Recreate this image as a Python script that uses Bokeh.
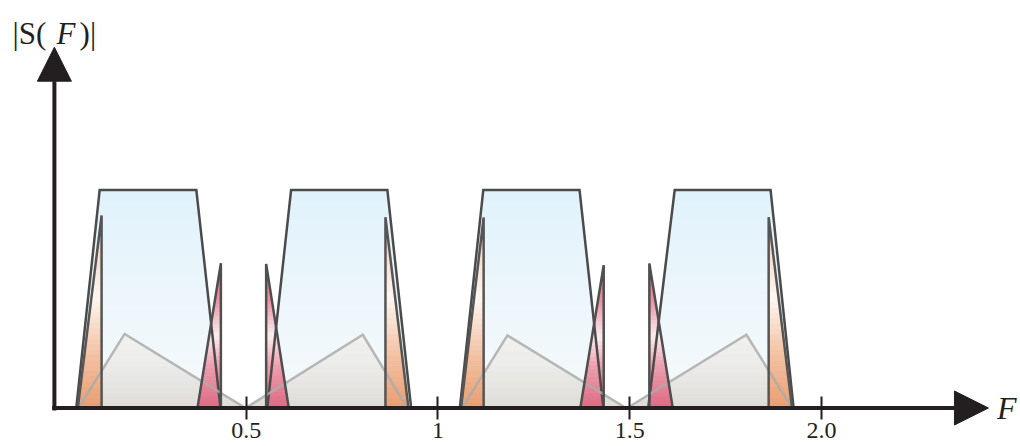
from bokeh.plotting import figure
from bokeh.models import Range1d, LinearAxis, FixedTicker, Arrow, NormalHead, ColumnDataSource
from bokeh.core.properties import value
from bokeh.embed import file_html
from bokeh.resources import INLINE

# ---------------- data (F in units of sampling frequency, amplitude normalised) ----
tick_values = [0.5, 1.0, 1.5, 2.0]
tick_labels = ["0.5", "1", "1.5", "2.0"]

# spectral images (trapezoids)
trap_left_base = [0.057, 0.555, 1.057, 1.548]
trap_left_top = [0.118, 0.617, 1.118, 1.617]
trap_right_top = [0.370, 0.868, 1.369, 1.867]
trap_right_base = [0.433, 0.930, 1.431, 1.927]
trap_height = [1.0, 1.0, 1.0, 1.0]

# orange aliasing triangles (vertical side at the peak)
orange_base = [0.061, 0.923, 1.060, 1.923]
orange_peak_x = [0.123, 0.863, 1.119, 1.862]
orange_peak = [0.883, 0.875, 0.874, 0.875]

# red aliasing triangles
red_base = [0.373, 0.611, 1.371, 1.612]
red_peak_x = [0.434, 0.552, 1.432, 1.551]
red_peak = [0.664, 0.661, 0.655, 0.663]

# grey triangles
grey_left = [0.063, 0.498, 1.063, 1.493]
grey_peak_x = [0.183, 0.804, 1.181, 1.804]
grey_peak = [0.340, 0.336, 0.333, 0.336]
grey_right = [0.498, 0.920, 1.490, 1.923]

INK = "#231f20"


# ---------------- helpers for vertical gradients ----------------
def _clip(poly, yc, keep_above):
    out = []
    n = len(poly)
    for i in range(n):
        (x1, y1), (x2, y2) = poly[i], poly[(i + 1) % n]
        in1 = (y1 >= yc) if keep_above else (y1 <= yc)
        in2 = (y2 >= yc) if keep_above else (y2 <= yc)
        if in1:
            out.append((x1, y1))
        if in1 != in2:
            t = (yc - y1) / (y2 - y1)
            out.append((x1 + t * (x2 - x1), yc))
    return out


def _hex(c):
    c = c.lstrip("#")
    return [int(c[i:i + 2], 16) for i in (0, 2, 4)]


def _interp(stops, t):
    for (t0, c0), (t1, c1) in zip(stops, stops[1:]):
        if t0 <= t <= t1:
            f = 0 if t1 == t0 else (t - t0) / (t1 - t0)
            a, b = _hex(c0), _hex(c1)
            return "#%02x%02x%02x" % tuple(int(round(a[k] + f * (b[k] - a[k]))) for k in range(3))
    return stops[-1][1]


def gradient_bands(polys, stops, n=36):
    xs, ys, cs = [], [], []
    for poly in polys:
        h = max(p[1] for p in poly)
        for i in range(n):
            y0, y1 = h * i / n, h * (i + 1) / n
            q = _clip(_clip(poly, y0, True), y1, False)
            if len(q) < 3:
                continue
            xs.append([p[0] for p in q])
            ys.append([p[1] for p in q])
            cs.append(_interp(stops, (i + 0.5) / n))
    return dict(xs=xs, ys=ys, c=cs)


trap_polys = [[(a, 0), (b, h), (c, h), (d, 0)] for a, b, c, d, h in
              zip(trap_left_base, trap_left_top, trap_right_top, trap_right_base, trap_height)]
orange_polys = [[(b, 0), (px, pk), (px, 0)] for b, px, pk in zip(orange_base, orange_peak_x, orange_peak)]
red_polys = [[(b, 0), (px, pk), (px, 0)] for b, px, pk in zip(red_base, red_peak_x, red_peak)]
grey_polys = [[(l, 0), (px, pk), (r, 0)] for l, px, pk, r in zip(grey_left, grey_peak_x, grey_peak, grey_right)]

# ---------------- figure ----------------
p = figure(width=1020, height=446, output_backend="svg", toolbar_location=None,
           x_range=Range1d(-0.14051, 2.51851), y_range=Range1d(-0.1766, 1.8693),
           x_axis_location=None, y_axis_location=None, min_border=0)
p.outline_line_color = None
p.grid.visible = False
p.background_fill_color = "white"

layers = [
    (trap_polys, [(0, "#f6f9fa"), (0.45, "#eef7fb"), (1, "#e0f2fc")]),
    (grey_polys, [(0, "#dedcd6"), (0.6, "#ececea"), (1, "#f1f1ef")]),
    (orange_polys, [(0, "#e99d70"), (0.3, "#f3c5a8"), (0.58, "#fdf6f1"), (1, "#f1c6ad")]),
    (red_polys, [(0, "#dd6a83"), (0.3, "#ec9fb0"), (0.5, "#fbeef1"), (0.75, "#ea91a4"), (1, "#e0738b")]),
]
for polys, stops in layers:
    src = ColumnDataSource(gradient_bands(polys, stops))
    p.patches("xs", "ys", source=src, fill_color="c", line_color="c", line_width=0.8)

def outline(polys, color, width, alpha=1.0):
    p.patches([[q[0] for q in poly] for poly in polys], [[q[1] for q in poly] for poly in polys],
              fill_color=None, line_color=color, line_width=width, line_alpha=alpha, line_join="miter")

outline(trap_polys, "#4b4b4b", 2.5)
outline(grey_polys, "#ababab", 2.5, 0.85)
outline(orange_polys, "#555555", 2.5)
outline(red_polys, "#4f4f4f", 2.5)

# ---------------- axes ----------------
xaxis = LinearAxis(fixed_location=0, ticker=FixedTicker(ticks=tick_values),
                   major_label_overrides={t: s for t, s in zip(tick_values, tick_labels)})
xaxis.axis_line_color = None
xaxis.major_tick_line_color = INK
xaxis.major_tick_line_width = 2
xaxis.major_tick_in = 12
xaxis.major_tick_out = 11
xaxis.minor_tick_line_color = None
xaxis.major_label_standoff = 4
xaxis.major_label_text_font = "Liberation Serif"
xaxis.major_label_text_font_size = "24px"
xaxis.major_label_text_color = INK
p.add_layout(xaxis, "below")

p.add_layout(Arrow(end=NormalHead(size=34, fill_color=INK, line_color=INK, line_width=1),
                   x_start=-0.006, y_start=0, x_end=2.435, y_end=0,
                   line_width=4, line_color=INK))
p.add_layout(Arrow(end=NormalHead(size=34, fill_color=INK, line_color=INK, line_width=1),
                   x_start=0, y_start=-0.012, x_end=0, y_end=1.655,
                   line_width=4, line_color=INK))

# axis titles
def txt(x, y, s, style="normal", size="31px", align="left", baseline="alphabetic"):
    p.text(x=[x], y=[y], text=[s], text_font=value("Liberation Serif"), text_font_style=style,
           text_font_size=value(size), text_color=INK, text_align=align, text_baseline=baseline)

txt(-0.1092, 1.718, "|S(")
txt(0.0055, 1.718, "F", style="italic")
txt(0.0656, 1.718, ")|")
txt(2.457, 0.0, "F", style="italic", size="32px", baseline="middle")

open("out.html", "w").write(file_html(p, INLINE))
